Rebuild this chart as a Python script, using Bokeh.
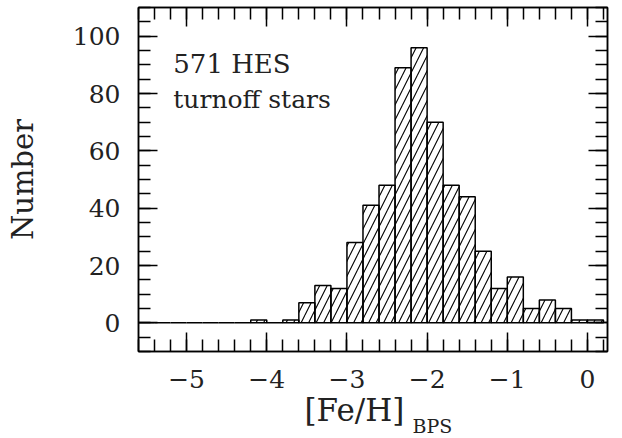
from bokeh.plotting import figure
from bokeh.models import LinearAxis, FixedTicker, Label, CustomJSTickFormatter, Title
from bokeh.embed import file_html
from bokeh.resources import INLINE

# Histogram data: [Fe/H]_BPS bins (width 0.2) and counts (571 stars)
bin_left = [-5.6, -5.4, -5.2, -5.0, -4.8, -4.6, -4.4, -4.2, -4.0, -3.8,
            -3.6, -3.4, -3.2, -3.0, -2.8, -2.6, -2.4, -2.2, -2.0, -1.8,
            -1.6, -1.4, -1.2, -1.0, -0.8, -0.6, -0.4, -0.2, 0.0]
bin_right = [-5.4, -5.2, -5.0, -4.8, -4.6, -4.4, -4.2, -4.0, -3.8, -3.6,
             -3.4, -3.2, -3.0, -2.8, -2.6, -2.4, -2.2, -2.0, -1.8, -1.6,
             -1.4, -1.2, -1.0, -0.8, -0.6, -0.4, -0.2, 0.0, 0.2]
counts = [0, 0, 0, 0, 0, 0, 0, 1, 0, 1,
          7, 13, 12, 28, 41, 48, 89, 96, 70, 48,
          44, 25, 12, 16, 5, 8, 5, 1, 1]

x_major = [-5, -4, -3, -2, -1, 0]
x_minor = [round(-5.6 + 0.2 * i, 1) for i in range(30)]
y_major = [0, 20, 40, 60, 80, 100]
y_minor = list(range(-10, 111, 5))

FONT = "DejaVu Serif"

p = figure(width=622, height=438, x_range=(-5.6, 0.25), y_range=(-10, 110),
           output_backend="svg", toolbar_location=None,
           min_border_left=138, min_border_right=15, min_border_top=7,
           min_border_bottom=87, x_axis_location=None, y_axis_location=None)
p.grid.visible = False
p.outline_line_color = "black"
p.outline_line_width = 1.5
p.background_fill_color = "white"
p.border_fill_color = "white"

p.quad(left=bin_left, right=bin_right, bottom=[0] * len(counts), top=counts,
       fill_color=None, line_color="black", line_width=1.5,
       hatch_pattern="/", hatch_color="black", hatch_scale=15, hatch_weight=1.1)

minus_fmt = CustomJSTickFormatter(code="return tick < 0 ? '\\u2212' + Math.abs(tick) : String(tick);")


def style(ax, major, minor, show_labels):
    ax.ticker = FixedTicker(ticks=major, minor_ticks=minor)
    ax.major_tick_in = 19
    ax.major_tick_out = 0
    ax.minor_tick_in = 12
    ax.minor_tick_out = 0
    ax.axis_line_width = 1.5
    ax.axis_line_color = "black"
    ax.major_tick_line_width = 1.5
    ax.minor_tick_line_width = 1.5
    ax.major_tick_line_color = "black"
    ax.minor_tick_line_color = "black"
    if show_labels:
        ax.major_label_text_font = FONT
        ax.major_label_text_font_size = "25px"
        ax.major_label_text_color = "#222222"
    else:
        ax.major_label_text_font_size = "0px"
        ax.major_label_standoff = 0


xb = LinearAxis(formatter=minus_fmt)
style(xb, x_major, x_minor, True)
xb.major_label_standoff = 18
p.add_layout(xb, "below")

yl = LinearAxis()
style(yl, y_major, y_minor, True)
yl.major_label_standoff = 18
yl.axis_label = "Number"
yl.axis_label_text_font = FONT
yl.axis_label_text_font_size = "29px"
yl.axis_label_text_font_style = "normal"
yl.axis_label_text_color = "#222222"
yl.axis_label_standoff = 30
p.add_layout(yl, "left")

xt = LinearAxis()
style(xt, x_major, x_minor, False)
p.add_layout(xt, "above")

yr = LinearAxis()
style(yr, y_major, y_minor, False)
p.add_layout(yr, "right")

p.add_layout(Label(x=-5.166, y=90.2, text="571 HES", text_font=FONT,
                   text_font_size="26px", text_color="#222222",
                   text_baseline="alphabetic"))
p.add_layout(Label(x=-5.166, y=77.9, text="turnoff stars", text_font=FONT,
                   text_font_size="25px", text_color="#222222",
                   text_baseline="alphabetic"))

t1 = Title(text="[Fe/H]", align="left", offset=166, standoff=-1,
           vertical_align="bottom",
           text_font=FONT, text_font_size="31px", text_font_style="normal",
           text_color="#222222")
t2 = Title(text="BPS", align="left", offset=274, standoff=-25,
           vertical_align="top",
           text_font=FONT, text_font_size="19px", text_font_style="normal",
           text_color="#222222")
p.add_layout(t1, "below")
p.add_layout(t2, "below")

open("out.html", "w").write(file_html(p, INLINE))
